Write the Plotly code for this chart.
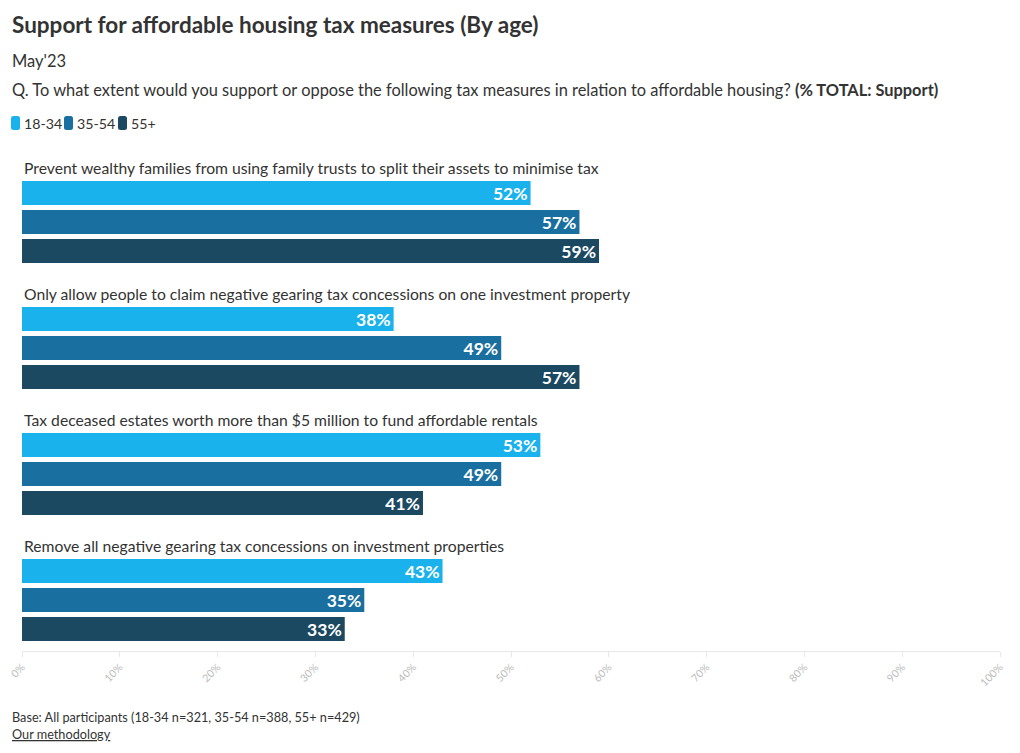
import plotly.graph_objects as go

categories = [
    "Prevent wealthy families from using family trusts to split their assets to minimise tax",
    "Only allow people to claim negative gearing tax concessions on one investment property",
    "Tax deceased estates worth more than $5 million to fund affordable rentals",
    "Remove all negative gearing tax concessions on investment properties",
]
series_names = ["18-34", "35-54", "55+"]
values_18_34 = [52, 38, 53, 43]
values_35_54 = [57, 49, 49, 35]
values_55_plus = [59, 57, 41, 33]
series_values = [values_18_34, values_35_54, values_55_plus]
colors = ["#1ab2ec", "#1a6fa1", "#1b4962"]
tick_vals = [0, 10, 20, 30, 40, 50, 60, 70, 80, 90, 100]
tick_text = [f"{v}%" for v in tick_vals]

FONT = "Source Sans Pro, Lato, Noto Sans, sans-serif"
W, H = 1020, 753

# layout units (pixel-like) for positions inside the plot area
PLOT_LEFT = 22
PLOT_RIGHT = 1000
PLOT_TOP = 155
PLOT_BOTTOM = 651
GROUP_PITCH = 126
LABEL_OFFSET = 13
BAR_FIRST = 38
BAR_PITCH = 29
BAR_H = 24


def px_x(x):
    return (x - PLOT_LEFT) / (PLOT_RIGHT - PLOT_LEFT)


def px_y(y):
    return (PLOT_BOTTOM - y) / (PLOT_BOTTOM - PLOT_TOP)


def rounded_rect(x0, y0, x1, y1, r):
    # pixel coords -> paper path with rounded corners
    X = px_x
    Y = px_y
    return (
        f"M {X(x0 + r)},{Y(y0)} L {X(x1 - r)},{Y(y0)} Q {X(x1)},{Y(y0)} {X(x1)},{Y(y0 + r)} "
        f"L {X(x1)},{Y(y1 - r)} Q {X(x1)},{Y(y1)} {X(x1 - r)},{Y(y1)} "
        f"L {X(x0 + r)},{Y(y1)} Q {X(x0)},{Y(y1)} {X(x0)},{Y(y1 - r)} "
        f"L {X(x0)},{Y(y0 + r)} Q {X(x0)},{Y(y0)} {X(x0 + r)},{Y(y0)} Z"
    )


fig = go.Figure()
for s, (name, vals, col) in enumerate(zip(series_names, series_values, colors)):
    ys = [g * GROUP_PITCH + BAR_FIRST + s * BAR_PITCH for g in range(len(categories))]
    fig.add_trace(go.Bar(
        x=vals, y=ys, name=name, orientation="h",
        marker=dict(color=col, line=dict(width=0)),
        width=BAR_H,
        text=[f"{v}%" for v in vals],
        textposition="inside", insidetextanchor="end", constraintext="none",
        textfont=dict(color="white", size=17.5, family=FONT, weight="bold"),
        hovertemplate="%{x}%<extra>" + name + "</extra>",
        showlegend=False,
    ))

annotations = []
for g, cat in enumerate(categories):
    annotations.append(dict(
        x=0, y=g * GROUP_PITCH + LABEL_OFFSET, xref="x", yref="y",
        text=cat, showarrow=False, xanchor="left", yanchor="middle",
        font=dict(size=15.7, color="#333333", family=FONT),
    ))

header_footer = [
    (10, 25, "<b>Support for affordable housing tax measures (By age)</b>", 22.5),
    (10, 61, "May'23", 16.5),
    (10, 89, "Q. To what extent would you support or oppose the following tax measures in relation to affordable housing? <b>(% TOTAL: Support)</b>", 16.4),
    (10, 717, "Base: All participants (18-34 n=321, 35-54 n=388, 55+ n=429)", 12.7),
    (10, 734, "<u>Our methodology</u>", 12.7),
]
for x, y, txt, size in header_footer:
    annotations.append(dict(
        x=px_x(x), y=px_y(y), xref="paper", yref="paper", text=txt,
        showarrow=False, xanchor="left", yanchor="middle",
        font=dict(size=size, color="#333333", family=FONT),
    ))

# custom legend: swatch + label
legend_x = [(11, 22), (64, 75), (118, 129)]
shapes = []
for (sx, tx), name, col in zip(legend_x, series_names, colors):
    shapes.append(dict(
        type="path", xref="paper", yref="paper",
        path=rounded_rect(sx, 116, sx + 9, 130, 2.5),
        fillcolor=col, line=dict(width=0), layer="above",
    ))
    annotations.append(dict(
        x=px_x(tx), y=px_y(123), xref="paper", yref="paper", text=name,
        showarrow=False, xanchor="left", yanchor="middle",
        font=dict(size=14.2, color="#333333", family=FONT),
    ))

fig.update_layout(
    width=W, height=H,
    margin=dict(l=PLOT_LEFT, r=W - PLOT_RIGHT, t=PLOT_TOP, b=H - PLOT_BOTTOM, pad=0,
                autoexpand=False),
    paper_bgcolor="white", plot_bgcolor="white",
    barmode="overlay",
    font=dict(family=FONT, color="#333333"),
    showlegend=False,
    xaxis=dict(
        range=[0, 100], tickvals=tick_vals, ticktext=tick_text, tickangle=-45,
        tickfont=dict(size=10.5, color="#bbbbbb", family=FONT),
        showgrid=False, zeroline=False, showline=True, linecolor="#e8e8e8", linewidth=1,
        ticks="outside", ticklen=5, tickcolor="#e8e8e8", fixedrange=True,
        automargin=False,
    ),
    yaxis=dict(
        range=[PLOT_BOTTOM - PLOT_TOP, 0], showticklabels=False, showgrid=False,
        zeroline=False, showline=False, fixedrange=True, automargin=False,
    ),
    annotations=annotations,
    shapes=shapes,
)

fig.write_html("out.html", post_script="document.body.style.margin='0';",
               config={"displayModeBar": False})
